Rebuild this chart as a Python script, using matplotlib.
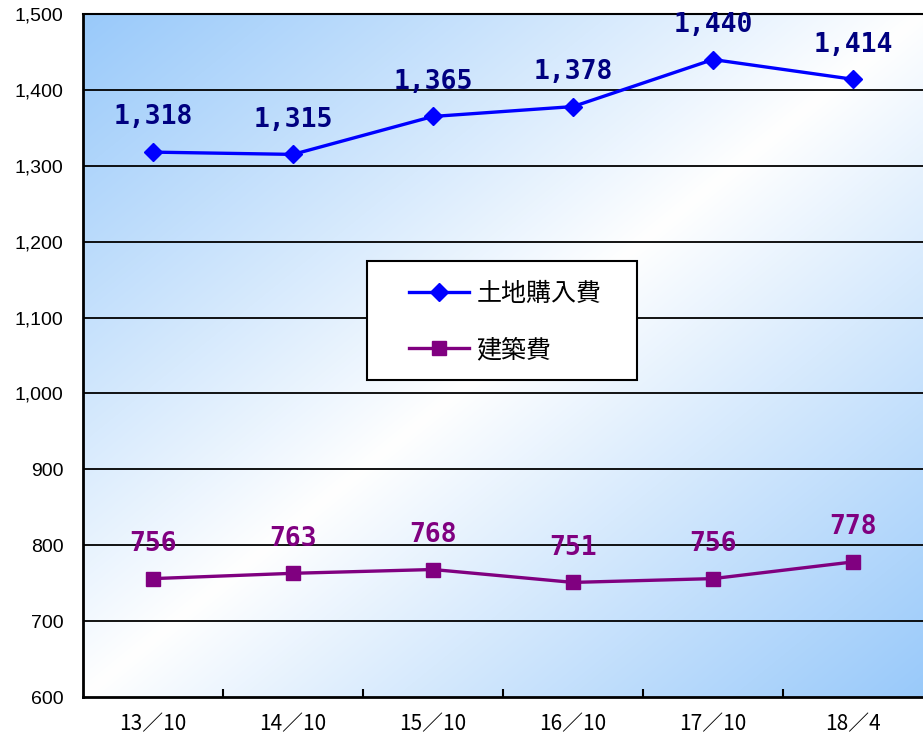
import matplotlib
matplotlib.use("Agg")
import matplotlib.pyplot as plt
import numpy as np
from matplotlib.patches import Rectangle
from matplotlib.ticker import FuncFormatter, FixedLocator

# 首都圏マンションの費用推移（万円/戸）
periods = ["13／10", "14／10", "15／10", "16／10", "17／10", "18／4"]
land_cost = [1318, 1315, 1365, 1378, 1440, 1414]
build_cost = [756, 763, 768, 751, 756, 778]

LAND_NAME = "土地購入費"
BUILD_NAME = "建築費"

BLUE = "#0000FF"
BLUE_TEXT = "#000080"
PURPLE = "#800080"
BG_BLUE = np.array([0.60, 0.79, 0.98])

CJK = ["Noto Sans CJK JP", "DejaVu Sans"]


def gradient_background(ax):
    # diagonal fade: blue in top-left and bottom-right corners, white across the middle
    nx, ny = 400, 320
    gx = np.linspace(0, 1, nx)
    gy = np.linspace(1, 0, ny)
    xx, yy = np.meshgrid(gx, gy)
    t = np.clip(np.abs(xx - yy), 0, 1) ** 0.95
    img = 1 - (1 - BG_BLUE)[None, None, :] * t[:, :, None]
    ax.imshow(img, extent=(-0.5, len(periods) - 0.5, 600, 1500),
              aspect="auto", zorder=0, interpolation="bilinear")


def main():
    fig = plt.figure(figsize=(9.23, 7.38), dpi=100)
    ax = fig.add_axes([83 / 923, 41 / 738, 840 / 923, 683 / 738])

    x = np.arange(len(periods))
    gradient_background(ax)

    ax.set_xlim(-0.5, len(periods) - 0.5)
    ax.set_ylim(600, 1500)

    for v in range(700, 1501, 100):
        ax.axhline(v, color="black", lw=1.3, zorder=1)

    ax.plot(x, land_cost, color=BLUE, lw=2.4, marker="D", ms=9,
            label=LAND_NAME, zorder=3)
    ax.plot(x, build_cost, color=PURPLE, lw=2.4, marker="s", ms=10,
            label=BUILD_NAME, zorder=3)

    for xi, v in zip(x, land_cost):
        ax.annotate(f"{v:,}", (xi, v), xytext=(0, 25), textcoords="offset points",
                    ha="center", va="center", fontsize=19, fontweight="bold",
                    family="DejaVu Sans Mono", color=BLUE_TEXT, zorder=4)
    for xi, v in zip(x, build_cost):
        ax.annotate(f"{v:,}", (xi, v), xytext=(0, 25), textcoords="offset points",
                    ha="center", va="center", fontsize=19, fontweight="bold",
                    family="DejaVu Sans Mono", color=PURPLE, zorder=4)

    ax.yaxis.set_major_locator(FixedLocator(range(600, 1501, 100)))
    ax.yaxis.set_major_formatter(FuncFormatter(lambda v, _: f"{int(v):,}"))
    ax.tick_params(axis="y", length=0, pad=14, labelsize=14)
    for lbl in ax.get_yticklabels():
        lbl.set_family("Liberation Sans")

    ax.set_xticks(x)
    ax.set_xticklabels(periods, family=CJK, fontsize=15)
    ax.set_xticks(np.arange(0.5, len(periods) - 1), minor=True)
    ax.tick_params(axis="x", which="major", length=0, pad=12)
    ax.tick_params(axis="x", which="minor", direction="in", length=6, width=1.5)

    ax.spines["right"].set_visible(False)
    ax.spines["left"].set_linewidth(2)
    ax.spines["bottom"].set_linewidth(2)
    ax.spines["top"].set_linewidth(1.5)

    # legend box drawn separately so its padding can be set exactly
    box = Rectangle((0.338, 0.464), 0.322, 0.174, transform=ax.transAxes,
                    facecolor="white", edgecolor="black", lw=1.5, zorder=5)
    ax.add_patch(box)
    leg = ax.legend(loc="center left", bbox_to_anchor=(0.388, 0.549),
                    borderaxespad=0, borderpad=0, frameon=False,
                    prop={"family": CJK, "size": 18},
                    handlelength=2.4, handletextpad=0.3, labelspacing=1.2)
    leg.set_zorder(6)

    fig.savefig("out.png", dpi=100)
    plt.close(fig)


if __name__ == "__main__":
    main()
